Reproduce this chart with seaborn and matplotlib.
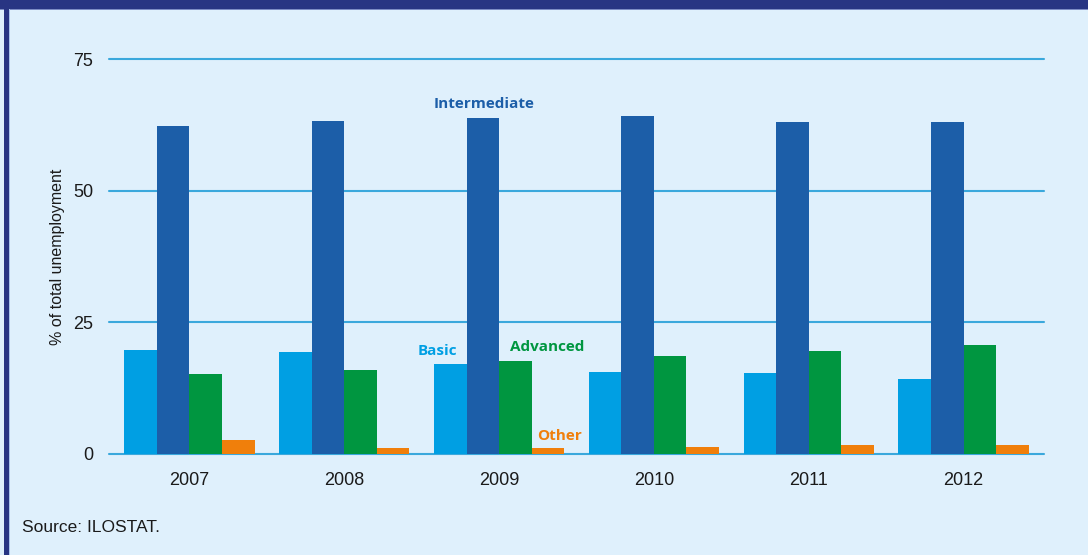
import matplotlib
matplotlib.use("Agg")
import matplotlib.pyplot as plt
from matplotlib.patches import Rectangle
import pandas as pd
import seaborn as sns

# Share of total unemployment by level of education
years = ["2007", "2008", "2009", "2010", "2011", "2012"]
levels = ["Basic", "Intermediate", "Advanced", "Other"]
basic = [19.7, 19.4, 17.1, 15.6, 15.4, 14.2]
intermediate = [62.3, 63.2, 63.8, 64.2, 63.0, 63.0]
advanced = [15.2, 15.9, 17.7, 18.6, 19.6, 20.7]
other = [2.7, 1.1, 1.1, 1.3, 1.7, 1.7]
y_ticks = [0, 25, 50, 75]

colors = {"Basic": "#009fe3", "Intermediate": "#1c5ea8",
          "Advanced": "#009640", "Other": "#f07f0b"}
bg = "#dff0fc"
navy = "#283583"
grid_col = "#3aa8dc"

rows = []
for lvl, vals in zip(levels, [basic, intermediate, advanced, other]):
    for yr, v in zip(years, vals):
        rows.append({"year": yr, "level": lvl, "value": v})
df = pd.DataFrame(rows)

sns.set_theme(style="white")
plt.rcParams["font.family"] = ["Liberation Sans", "DejaVu Sans"]

W, H = 1088, 555
fig = plt.figure(figsize=(W / 100, H / 100), dpi=100, facecolor=bg)
ax = fig.add_axes([109 / W, (H - 454) / H, (1044 - 109) / W, 395 / H])
ax.set_facecolor(bg)

sns.barplot(data=df, x="year", y="value", hue="level", order=years,
            hue_order=levels, palette=colors, width=0.84, gap=0,
            saturation=1, linewidth=0, legend=False, ax=ax)

ax.set_xlim(-0.52, 5.52)
ax.set_ylim(0, 75)
ax.set_yticks(y_ticks)
ax.set_yticklabels([str(t) for t in y_ticks])
for t in y_ticks:
    ax.axhline(t, color=grid_col, lw=1.5, zorder=0.5, clip_on=False)
for s in ax.spines.values():
    s.set_visible(False)
ax.tick_params(axis="both", length=0, labelsize=13, colors="#1a1a1a")
ax.tick_params(axis="y", pad=11.5)
ax.tick_params(axis="x", pad=13)
ax.set_xlabel("")
ax.set_ylabel("% of total unemployment", fontsize=11.5, color="#1a1a1a",
              labelpad=6)

# Series labels placed next to the bars
lab_font = dict(fontfamily=["Open Sans", "DejaVu Sans"], fontweight="bold",
                fontsize=11, ha="center", va="center")
ax.text(2 - 0.1, 66.5, "Intermediate", color=colors["Intermediate"], **lab_font)
ax.text(1.6, 19.6, "Basic", color=colors["Basic"], **lab_font)
ax.text(2.31, 20.3, "Advanced", color=colors["Advanced"], **lab_font)
ax.text(2.39, 3.5, "Other", color=colors["Other"], **lab_font)

fig.text(22 / W, 1 - 527 / H, "Source: ILOSTAT.", fontsize=12.5,
         color="#1a1a1a", ha="left", va="center")

# Page frame: navy band along the top and the left edge
fig.patches.append(Rectangle((0, 1 - 9 / H), 1, 9 / H, transform=fig.transFigure,
                             facecolor=navy, edgecolor="none", zorder=10))
fig.patches.append(Rectangle((0, 1 - 10 / H), 1, 1 / H, transform=fig.transFigure,
                             facecolor="#7d8cc4", edgecolor="none", zorder=10))
fig.patches.append(Rectangle((4 / W, 0), 5 / W, 1, transform=fig.transFigure,
                             facecolor=navy, edgecolor="none", zorder=10))
fig.patches.append(Rectangle((9 / W, 0), 1 / W, 1 - 9 / H, transform=fig.transFigure,
                             facecolor="#a9c3ea", edgecolor="none", zorder=10))

fig.savefig("out.png", dpi=100, facecolor=bg)
